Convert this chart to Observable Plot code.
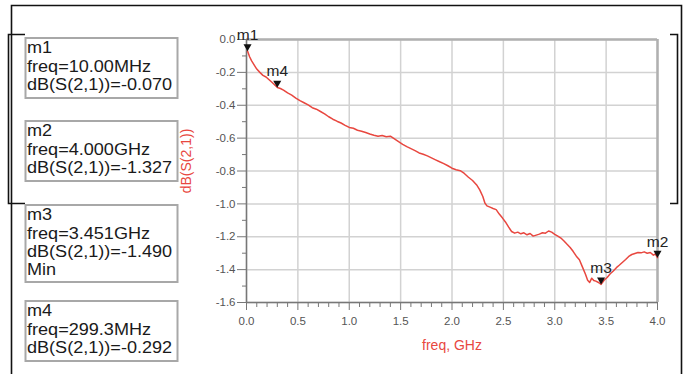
<!DOCTYPE html>
<html>
<head>
<meta charset="utf-8">
<script src="https://cdn.jsdelivr.net/npm/d3@7"></script>
<script src="https://cdn.jsdelivr.net/npm/@observablehq/plot@0.6"></script>
<style>
  html, body { margin: 0; padding: 0; background: #fff; }
  svg { display: block; }
</style>
</head>
<body>
<div id="chart"></div>
<script>
// ---- data ----
const freq = [0.01,0.03,0.05,0.08,0.10,0.13,0.16,0.19,0.22,0.25,0.28,0.30,0.33,0.36,0.40,0.44,0.48,0.52,0.56,0.60,0.64,0.68,0.72,0.76,0.80,0.84,0.88,0.92,0.96,1.00,1.04,1.08,1.12,1.16,1.20,1.24,1.28,1.32,1.36,1.40,1.44,1.48,1.52,1.56,1.60,1.64,1.68,1.72,1.76,1.80,1.84,1.88,1.92,1.96,2.00,2.04,2.08,2.12,2.16,2.20,2.24,2.27,2.30,2.32,2.34,2.37,2.40,2.43,2.46,2.49,2.52,2.55,2.58,2.61,2.64,2.67,2.70,2.73,2.76,2.79,2.82,2.85,2.88,2.91,2.94,2.97,3.00,3.03,3.06,3.09,3.12,3.15,3.18,3.21,3.24,3.27,3.30,3.32,3.34,3.36,3.38,3.40,3.43,3.451,3.48,3.51,3.54,3.57,3.60,3.63,3.66,3.69,3.72,3.75,3.78,3.81,3.84,3.87,3.90,3.93,3.96,3.98,4.00];
const dbS21 = [-0.070,-0.105,-0.130,-0.160,-0.180,-0.200,-0.218,-0.228,-0.245,-0.262,-0.280,-0.292,-0.298,-0.308,-0.325,-0.338,-0.356,-0.372,-0.385,-0.398,-0.415,-0.424,-0.438,-0.452,-0.470,-0.485,-0.497,-0.508,-0.522,-0.535,-0.540,-0.552,-0.558,-0.566,-0.575,-0.583,-0.588,-0.584,-0.592,-0.588,-0.605,-0.622,-0.638,-0.652,-0.664,-0.676,-0.690,-0.698,-0.708,-0.720,-0.732,-0.744,-0.755,-0.768,-0.783,-0.792,-0.798,-0.815,-0.838,-0.858,-0.885,-0.915,-0.955,-0.995,-1.012,-1.020,-1.028,-1.035,-1.062,-1.085,-1.110,-1.140,-1.168,-1.178,-1.172,-1.182,-1.176,-1.188,-1.180,-1.196,-1.190,-1.184,-1.176,-1.178,-1.165,-1.172,-1.185,-1.196,-1.208,-1.226,-1.246,-1.265,-1.290,-1.318,-1.340,-1.385,-1.430,-1.465,-1.478,-1.452,-1.466,-1.470,-1.480,-1.490,-1.465,-1.448,-1.425,-1.408,-1.388,-1.372,-1.355,-1.338,-1.320,-1.308,-1.302,-1.296,-1.298,-1.292,-1.300,-1.296,-1.312,-1.305,-1.327];

const markerName = ["m1", "m2", "m3", "m4"];
const markerFreq = [0.01, 4.0, 3.451, 0.2993];
const markerDb = [-0.070, -1.327, -1.490, -0.292];
const markerFreqText = ["10.00MHz", "4.000GHz", "3.451GHz", "299.3MHz"];
const markerDbText = ["-0.070", "-1.327", "-1.490", "-0.292"];
const markerNote = ["", "", "Min", ""];

const xTicks = [0, 0.5, 1.0, 1.5, 2.0, 2.5, 3.0, 3.5, 4.0];
const yTicks = [0, -0.2, -0.4, -0.6, -0.8, -1.0, -1.2, -1.4, -1.6];
const xMinorTicks = [0.1,0.2,0.3,0.4,0.6,0.7,0.8,0.9,1.1,1.2,1.3,1.4,1.6,1.7,1.8,1.9,2.1,2.2,2.3,2.4,2.6,2.7,2.8,2.9,3.1,3.2,3.3,3.4,3.6,3.7,3.8,3.9];
const yMinorTicks = [-0.1,-0.3,-0.5,-0.7,-0.9,-1.1,-1.3,-1.5];

const xLabel = "freq, GHz";
const yLabel = "dB(S(2,1))";

// ---- build tables ----
const curve = freq.map((f, i) => ({f, v: dbS21[i]}));
const markers = markerName.map((n, i) => ({name: n, f: markerFreq[i], v: markerDb[i]}));

const RED = "#e8473f";
const FONT = "'Liberation Sans', Arial, sans-serif";

const plot = Plot.plot({
  width: 691,
  height: 374,
  marginLeft: 246,
  marginRight: 34,
  marginTop: 39,
  marginBottom: 72,
  style: {fontFamily: FONT, fontSize: "11px", background: "#fff"},
  x: {domain: [0, 4], label: null},
  y: {domain: [-1.6, 0], label: null},
  marks: [
    Plot.gridX(xTicks, {stroke: "#d2d2d2", strokeOpacity: 1, strokeWidth: 1.5}),
    Plot.gridY(yTicks, {stroke: "#d2d2d2", strokeOpacity: 1, strokeWidth: 1.5}),
    Plot.ruleY([0], {stroke: "#b0b0b0", strokeWidth: 2.5}),
    Plot.ruleX([4], {stroke: "#b0b0b0", strokeWidth: 2.5}),
    Plot.axisY(yMinorTicks, {tickSize: 4, text: null, stroke: "#777", label: null}),
    Plot.axisY(yTicks, {tickSize: 9, tickPadding: 2, stroke: "#777", fill: "#555", fontSize: 11.5, tickFormat: d => d.toFixed(1), label: null}),
    Plot.axisX(xMinorTicks, {tickSize: 5, text: null, stroke: "#777", label: null}),
    Plot.axisX(xTicks, {tickSize: 8, tickPadding: 6, stroke: "#777", fill: "#555", fontSize: 11.5, tickFormat: d => d.toFixed(1), label: null}),
    Plot.ruleX([0], {stroke: "#777", strokeWidth: 1.5}),
    Plot.ruleY([-1.6], {stroke: "#777", strokeWidth: 1.5}),
    Plot.line(curve, {x: "f", y: "v", stroke: RED, strokeWidth: 1.5}),
    Plot.dot(markers, {x: "f", y: "v", symbol: "triangle", rotate: 180, r: 3, fill: "#111", stroke: null, dy: -4.5}),
    Plot.text(markers, {x: "f", y: "v", text: "name", dy: -11, lineAnchor: "bottom", fontSize: 15.5, fill: "#222"}),
    Plot.text([yLabel], {frameAnchor: "left", textAnchor: "middle", dx: -60, dy: -10, rotate: -90, fill: RED, fontSize: 14}),
    Plot.text([xLabel], {frameAnchor: "bottom", dy: 47, fill: RED, fontSize: 14})
  ]
});

const svg = d3.select(plot);

// outer frame and brackets
svg.append("path").attr("d", "M11.5,374 V5.5 H681.5 V374").attr("fill", "none").attr("stroke", "#111").attr("stroke-width", 1.6);
svg.append("path").attr("d", "M25,34.5 H8.5 V203.5 H25").attr("fill", "none").attr("stroke", "#111").attr("stroke-width", 1.6);
svg.append("path").attr("d", "M670,34.5 H677.5 V203.5 H670").attr("fill", "none").attr("stroke", "#111").attr("stroke-width", 1.6);

// marker readout boxes
const boxTops = [38, 121, 205, 301];
markerName.forEach((n, i) => {
  const lines = [n, "freq=" + markerFreqText[i], "dB(S(2,1))=" + markerDbText[i]];
  if (markerNote[i]) lines.push(markerNote[i]);
  const top = boxTops[i];
  const h = lines.length === 4 ? 77 : 60;
  svg.append("rect").attr("x", 25.5).attr("y", top).attr("width", 152).attr("height", h)
    .attr("fill", "#fff").attr("stroke", "#a8a8a8").attr("stroke-width", 2);
  const g = svg.append("g").attr("transform", `translate(27,${top}) scale(1.13,1)`)
    .attr("text-anchor", "start");
  lines.forEach((t, j) => {
    g.append("text").attr("x", 0).attr("y", 15.5 + j * 18.3)
      .attr("text-anchor", "start")
      .attr("font-family", FONT)
      .attr("font-size", 16).attr("fill", "#1a1a1a").text(t);
  });
});

document.getElementById("chart").appendChild(plot);
</script>
</body>
</html>
